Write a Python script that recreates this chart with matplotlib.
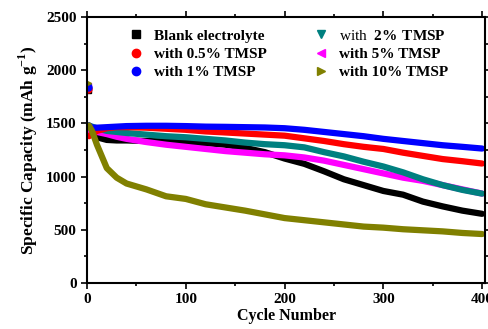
import matplotlib

matplotlib.use("Agg")
import matplotlib.pyplot as plt
from matplotlib.lines import Line2D
from matplotlib.ticker import MultipleLocator

plt.rcParams["font.family"] = "Liberation Serif"
plt.rcParams["font.weight"] = "bold"
plt.rcParams["axes.labelweight"] = "bold"
plt.rcParams["mathtext.fontset"] = "custom"
plt.rcParams["mathtext.rm"] = "Liberation Serif:bold"
plt.rcParams["mathtext.bf"] = "Liberation Serif:bold"

cycles = [1, 2, 5, 10, 20, 30, 40, 60, 80, 100, 120, 140, 160, 180, 200,
          220, 240, 260, 280, 300, 320, 340, 360, 380, 400]

blank = [1810, 1480, 1420, 1370, 1345, 1340, 1340, 1335, 1330, 1325, 1315,
         1300, 1270, 1230, 1170, 1120, 1050, 975, 920, 865, 830, 765, 720,
         680, 650]
tmsp_05 = [1820, 1380, 1400, 1430, 1455, 1465, 1465, 1460, 1450, 1440, 1425,
           1415, 1405, 1395, 1385, 1360, 1335, 1305, 1280, 1260, 1225, 1195,
           1165, 1145, 1123]
tmsp_1 = [1840, 1480, 1460, 1460, 1465, 1470, 1475, 1478, 1478, 1475, 1470,
          1468, 1465, 1462, 1455, 1440, 1420, 1400, 1380, 1355, 1335, 1315,
          1295, 1280, 1264]
tmsp_2 = [1840, 1480, 1470, 1455, 1430, 1420, 1410, 1395, 1380, 1370, 1355,
          1340, 1320, 1305, 1295, 1275, 1230, 1190, 1140, 1095, 1040, 975,
          920, 875, 840]
tmsp_5 = [1850, 1440, 1430, 1420, 1400, 1375, 1355, 1325, 1300, 1280, 1260,
          1240, 1225, 1210, 1200, 1180, 1150, 1110, 1070, 1030, 990, 960,
          920, 880, 840]
tmsp_10 = [1885, 1480, 1430, 1300, 1080, 990, 935, 880, 815, 790, 740, 710,
           680, 645, 610, 590, 570, 550, 530, 520, 505, 495, 485, 470, 460]

series = [
    (blank, "Blank electrolyte", "black", "s"),
    (tmsp_05, "with 0.5% TMSP", "#ff0000", "o"),
    (tmsp_1, "with 1% TMSP", "#0000ff", "o"),
    (tmsp_2, r"with  $\mathbf{2\%\ TMSP}$", "#008080", "v"),
    (tmsp_5, "with 5% TMSP", "#ff00ff", "<"),
    (tmsp_10, "with 10% TMSP", "#808000", ">"),
]

fig = plt.figure(figsize=(4.89, 3.29), dpi=100)
ax = fig.add_axes([0.178, 0.140, 0.814, 0.808])

# draw in an order so blue/red sit on top like the original
draw_order = [0, 4, 3, 1, 2, 5]
for i in draw_order:
    vals, label, color, marker = series[i]
    ax.plot(cycles[1:], vals[1:], color=color, lw=4.5,
            solid_capstyle="round", solid_joinstyle="round")
    ax.plot(cycles[:1], vals[:1], ls="none", marker=marker, color=color,
            markersize=5)

handles = [Line2D([], [], ls="none", marker=m, color=c, markersize=6)
           for _, _, c, m in series]
labels = [s[1] for s in series]
# legend fills column-wise: col1 = first three, col2 = last three
leg = ax.legend(handles, labels, ncol=2, loc="upper left",
                bbox_to_anchor=(0.05, 1.008), frameon=False, fontsize=11,
                handlelength=2.0, handletextpad=0.2, columnspacing=2.5,
                labelspacing=0.29)
leg.get_texts()[3].set_fontweight("normal")

ax.set_xlim(0, 403)
ax.set_ylim(0, 2500)
ax.xaxis.set_major_locator(MultipleLocator(100))
ax.xaxis.set_minor_locator(MultipleLocator(50))
ax.yaxis.set_major_locator(MultipleLocator(500))
ax.yaxis.set_minor_locator(MultipleLocator(250))
ax.tick_params(which="both", direction="out", top=True, right=True,
               labelsize=11, width=1.2)
ax.tick_params(which="major", length=4)
ax.tick_params(which="minor", length=2.5)
for sp in ax.spines.values():
    sp.set_linewidth(1.5)

ax.set_xlabel("Cycle Number", fontsize=11.5, labelpad=1)
ax.set_ylabel(r"Specific Capacity (mAh g$^{-1}$)", fontsize=12.5, labelpad=4)

fig.savefig("out.png", dpi=100)
